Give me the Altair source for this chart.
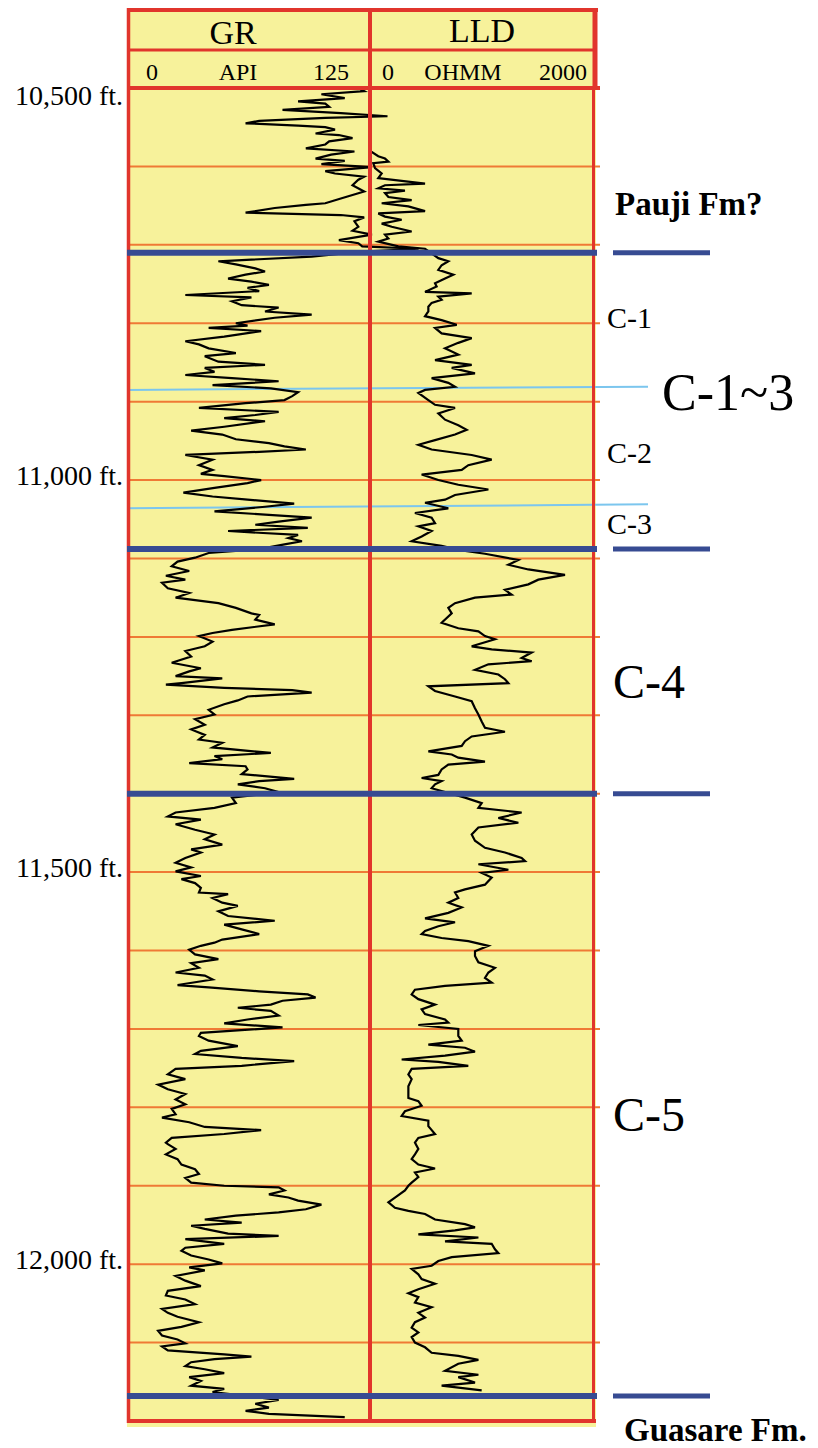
import altair as alt
import pandas as pd

SERIF = "'Liberation Serif', 'Times New Roman', Times, serif"
YELLOW = "#f7f29b"
RED = "#e1352c"
ORANGE = "#ef7a35"
NAVY = "#374b92"
SKY = "#7cc6ee"

DEPTH_TOP, DEPTH_BOTTOM = 10500, 12200
GR_SCALE = [0, 125]      # API
LLD_SCALE = [0, 2000]    # OHMM

grid_depths = list(range(10600, 12200, 100))
formation_tops = [10710, 11088, 11400, 12168]
subunit_left = [10885, 11036]
subunit_right = [10881, 11031]

depth_label_text = ["11,000 ft.", "11,500 ft.", "12,000 ft."]
depth_label_depth = [11000, 11500, 12000]
top_label_text = ["10,500 ft."]
top_label_depth = [10500]

# GR (API) by interval: (depth ft, API)
gr_pauji = [(10500,119),(10504,122),(10508,100),(10513,112),(10517,88),(10520,102),(10524,104),(10528,80),(10532,110),(10536,134),(10538,102),(10542,68),(10545,61),(10548,88),(10550,102),(10553,107),(10558,97),(10560,109),(10564,116),(10568,104),(10572,102),(10577,92),(10581,117),(10585,105),(10590,97),(10593,112),(10597,100),(10601,126),(10606,102),(10609,107),(10613,122),(10617,119),(10624,116),(10632,122),(10641,110),(10647,102),(10649,92),(10653,76),(10659,61),(10662,110),(10665,122),(10670,117),(10677,119),(10682,116),(10687,126),(10694,109),(10698,119),(10702,121),(10705,150),(10709,119)]
gr_c1_3 = [(10715,95),(10721,47),(10725,56),(10730,66),(10734,71),(10738,61),(10743,52),(10747,64),(10751,73),(10755,62),(10759,68),(10764,30),(10767,64),(10772,54),(10777,59),(10780,78),(10785,71),(10789,95),(10793,76),(10800,56),(10803,62),(10806,42),(10810,69),(10817,50),(10823,30),(10827,37),(10832,42),(10838,56),(10842,40),(10849,47),(10853,71),(10857,40),(10862,45),(10866,30),(10870,54),(10874,78),(10879,44),(10883,74),(10888,88),(10893,85),(10898,81),(10902,61),(10908,37),(10913,78),(10917,66),(10921,50),(10925,71),(10932,50),(10937,33),(10942,49),(10948,56),(10953,73),(10957,81),(10961,92),(10964,68),(10968,30),(10974,44),(10981,37),(10987,44),(10992,38),(10995,50),(11000,69),(11004,62),(11010,45),(11016,29),(11021,44),(11025,62),(11030,86),(11034,71),(11040,45),(11044,71),(11048,95),(11053,78),(11057,66),(11061,93),(11065,52),(11070,88),(11074,83),(11078,90),(11082,81),(11088,68)]
gr_c4 = [(11093,42),(11099,35),(11104,26),(11110,23),(11116,32),(11122,20),(11127,30),(11131,18),(11138,21),(11144,32),(11150,25),(11157,47),(11163,56),(11170,64),(11172,68),(11178,66),(11184,76),(11191,54),(11195,44),(11199,37),(11206,44),(11212,40),(11218,30),(11225,33),(11233,23),(11240,38),(11244,32),(11250,25),(11253,49),(11259,28),(11261,20),(11265,50),(11268,85),(11271,95),(11276,62),(11281,57),(11286,50),(11293,42),(11299,45),(11305,35),(11312,40),(11318,33),(11325,40),(11331,37),(11335,49),(11341,44),(11348,74),(11352,45),(11356,49),(11361,32),(11365,61),(11369,62),(11375,59),(11381,86),(11384,68),(11388,57),(11393,71),(11398,78)]
gr_c5 = [(11405,54),(11412,56),(11418,45),(11424,25),(11429,21),(11433,38),(11439,25),(11446,35),(11452,45),(11458,40),(11465,49),(11471,33),(11475,38),(11482,30),(11488,25),(11494,33),(11499,25),(11505,38),(11509,28),(11514,35),(11520,38),(11526,37),(11528,52),(11533,44),(11539,49),(11543,57),(11550,47),(11556,52),(11562,76),(11567,50),(11573,59),(11579,68),(11586,49),(11590,45),(11594,38),(11599,32),(11605,35),(11611,47),(11616,33),(11622,37),(11628,25),(11632,40),(11637,44),(11644,26),(11647,42),(11652,68),(11656,93),(11660,97),(11664,80),(11669,74),(11673,57),(11677,74),(11683,78),(11688,62),(11693,50),(11698,80),(11705,38),(11709,37),(11715,42),(11722,57),(11728,38),(11732,35),(11737,59),(11741,86),(11747,59),(11751,25),(11758,21),(11764,30),(11771,16),(11777,21),(11783,30),(11790,25),(11796,30),(11802,23),(11809,25),(11813,18),(11819,32),(11825,40),(11829,69),(11834,50),(11839,23),(11845,20),(11847,21),(11853,25),(11860,20),(11866,26),(11873,28),(11879,35),(11885,37),(11890,30),(11896,33),(11900,50),(11902,78),(11906,81),(11911,73),(11915,83),(11919,88),(11924,100),(11930,92),(11934,78),(11938,56),(11943,40),(11947,59),(11951,33),(11955,40),(11961,52),(11964,78),(11968,30),(11974,50),(11979,30),(11983,28),(11989,33),(11994,42),(11999,49),(12004,32),(12008,40),(12015,25),(12021,30),(12028,38),(12034,21),(12040,20),(12045,30),(12051,35),(12057,18),(12062,21),(12067,26),(12074,37),(12080,28),(12085,16),(12091,18),(12096,26),(12101,30),(12105,18),(12110,21),(12115,50),(12118,64),(12121,45),(12125,33),(12130,30),(12134,40),(12139,50),(12144,32),(12149,38),(12155,33),(12159,50),(12163,44)]
gr_guasare = [(12173,78),(12178,66),(12183,73),(12187,61),(12191,73),(12195,112)]

# LLD (OHMM) by interval: (depth ft, ohm-m)
lld_pauji = [(10500,5),(10581,8),(10587,73),(10590,132),(10594,162),(10596,29),(10602,44),(10609,103),(10615,73),(10622,485),(10624,132),(10628,73),(10631,308),(10634,132),(10639,162),(10643,367),(10647,103),(10651,338),(10657,485),(10660,73),(10664,132),(10668,279),(10673,103),(10677,191),(10683,367),(10687,132),(10692,162),(10696,73),(10702,250),(10705,485)]
lld_c1_3 = [(10717,602),(10721,690),(10726,631),(10732,602),(10738,734),(10743,661),(10749,573),(10753,587),(10760,485),(10762,896),(10766,602),(10770,631),(10774,543),(10779,514),(10785,514),(10791,485),(10796,631),(10802,764),(10806,573),(10813,631),(10819,896),(10825,778),(10832,661),(10840,778),(10847,573),(10853,896),(10857,720),(10864,925),(10870,543),(10876,690),(10881,749),(10885,485),(10889,426),(10898,514),(10904,573),(10908,749),(10915,602),(10923,661),(10930,778),(10936,852),(10942,749),(10949,573),(10955,426),(10961,543),(10968,896),(10974,1072),(10981,866),(10987,808),(10993,455),(11000,602),(11006,778),(11012,1043),(11019,749),(11025,661),(11029,485),(11036,690),(11042,396),(11048,543),(11055,573),(11059,426),(11065,543),(11072,455),(11078,367),(11084,631)]
lld_c4 = [(11089,778),(11094,1013),(11102,1307),(11108,1219),(11114,1395),(11121,1718),(11127,1483),(11133,1395),(11140,1189),(11146,1248),(11150,925),(11157,749),(11163,690),(11170,720),(11182,631),(11189,778),(11193,955),(11199,1013),(11203,1101),(11212,896),(11216,1072),(11220,1424),(11227,1336),(11231,1424),(11235,1043),(11242,925),(11248,1131),(11254,1189),(11259,1219),(11263,514),(11269,573),(11276,749),(11282,896),(11291,925),(11299,955),(11308,984),(11316,1013),(11321,1189),(11327,896),(11333,837),(11339,808),(11346,514),(11350,720),(11354,778),(11359,1013),(11363,690),(11369,631),(11376,602),(11380,455),(11384,631),(11388,573),(11393,543)]
lld_c5 = [(11405,837),(11412,984),(11418,955),(11424,1336),(11431,1131),(11437,1307),(11443,955),(11452,896),(11460,925),(11469,1013),(11475,1189),(11482,1336),(11486,1366),(11490,955),(11497,1219),(11501,984),(11507,1072),(11516,1013),(11522,837),(11526,749),(11533,778),(11539,690),(11545,808),(11552,690),(11559,485),(11564,749),(11569,602),(11575,485),(11579,455),(11584,631),(11588,866),(11594,1043),(11601,925),(11607,925),(11615,955),(11622,1101),(11628,1043),(11635,1013),(11641,1072),(11645,661),(11650,396),(11656,367),(11662,426),(11669,573),(11675,455),(11681,485),(11688,661),(11692,690),(11695,426),(11700,778),(11709,778),(11715,808),(11720,514),(11724,837),(11729,925),(11734,661),(11739,279),(11742,602),(11747,866),(11751,367),(11758,338),(11764,367),(11773,338),(11781,338),(11788,338),(11792,426),(11798,455),(11805,308),(11811,279),(11817,514),(11824,514),(11834,573),(11839,426),(11845,396),(11853,426),(11860,396),(11866,367),(11873,426),(11878,573),(11883,396),(11889,426),(11896,367),(11900,338),(11906,308),(11915,220),(11921,162),(11928,220),(11932,338),(11936,485),(11943,573),(11949,837),(11953,925),(11957,749),(11962,426),(11966,955),(11971,661),(11974,1072),(11981,1101),(11986,1131),(11991,720),(11996,602),(12002,543),(12006,367),(12013,426),(12019,455),(12025,573),(12032,426),(12037,338),(12042,426),(12049,396),(12055,543),(12062,426),(12068,485),(12074,396),(12081,367),(12087,426),(12093,367),(12100,396),(12106,485),(12113,543),(12117,778),(12122,955),(12127,778),(12136,661),(12141,955),(12144,778),(12151,925),(12155,631),(12161,984)]

# interval labels
small_units = ["C-1", "C-2", "C-3"]
small_units_depth = [10806, 10978, 11069]
big_units = ["C-4", "C-5"]
big_units_depth = [11278, 11830]
group_label = ["C-1~3"]
group_label_depth = [10911]
formation_top_name = ["Pauji Fm?"]
formation_top_depth = [10662]
formation_base_name = ["Guasare Fm."]
formation_base_depth = [12226]

one = pd.DataFrame({"k": [0]})
yscale = alt.Scale(domain=[DEPTH_TOP, DEPTH_BOTTOM], range=[88, 1421], zero=False, nice=False)


def Y(field):
    return alt.Y(field, type="quantitative", scale=yscale, axis=None)


def rule(x, x2, y, y2, color, w):
    return alt.Chart(one).mark_rule(color=color, strokeWidth=w).encode(
        x=alt.value(x), x2=alt.value(x2), y=alt.value(y), y2=alt.value(y2))


def text_at(text, x, y, size, align="center", weight="normal"):
    return alt.Chart(pd.DataFrame({"t": [text]})).mark_text(
        font=SERIF, fontSize=size, fontWeight=weight, align=align,
        baseline="alphabetic", color="black").encode(
        text="t:N", x=alt.value(x), y=alt.value(y))


def depth_text(texts, depths, x, size, align="left", weight="normal", baseline="alphabetic", dy=0):
    df = pd.DataFrame({"t": texts, "depth": depths})
    return alt.Chart(df).mark_text(
        font=SERIF, fontSize=size, fontWeight=weight, align=align,
        baseline=baseline, color="black", dy=dy).encode(
        text="t:N", x=alt.value(x), y=Y("depth"))


layers = []
# background
layers.append(alt.Chart(one).mark_rect(color=YELLOW).encode(
    x=alt.value(127), x2=alt.value(596), y=alt.value(8), y2=alt.value(1427)))

# 100 ft grid
grid_df = pd.DataFrame({"depth": grid_depths})
layers.append(alt.Chart(grid_df).mark_rule(color=ORANGE, strokeWidth=2).encode(
    y=Y("depth"), x=alt.value(128), x2=alt.value(600)))

# sub-unit boundaries (light blue)
sub_df = pd.DataFrame({"d1": subunit_left, "d2": subunit_right})
layers.append(alt.Chart(sub_df).mark_rule(color=SKY, strokeWidth=2).encode(
    y=Y("d1"), y2="d2:Q", x=alt.value(127), x2=alt.value(648)))

# curves
gr_df = pd.DataFrame(gr_pauji + gr_c1_3 + gr_c4 + gr_c5 + gr_guasare, columns=["depth", "api"])
lld_df = pd.DataFrame(lld_pauji + lld_c1_3 + lld_c4 + lld_c5, columns=["depth", "ohmm"])
layers.append(alt.Chart(gr_df).mark_line(color="black", strokeWidth=2.2).encode(
    x=alt.X("api:Q", scale=alt.Scale(domain=GR_SCALE, range=[127, 370], zero=False, nice=False), axis=None),
    y=Y("depth"), order="depth:Q"))
layers.append(alt.Chart(lld_df).mark_line(color="black", strokeWidth=2.2).encode(
    x=alt.X("ohmm:Q", scale=alt.Scale(domain=LLD_SCALE, range=[370, 597], zero=False, nice=False), axis=None),
    y=Y("depth"), order="depth:Q"))

# red frame
layers += [
    rule(128.5, 128.5, 8, 1423, RED, 3.5),
    rule(370, 370, 8, 1423, RED, 4),
    rule(595, 595, 8, 90, RED, 5),
    rule(593.5, 593.5, 88, 1423, RED, 3),
    rule(127, 598, 10, 10, RED, 4),
    rule(127, 597, 50, 50, RED, 3),
    rule(127, 600, 88, 88, RED, 4),
    rule(127, 596, 1421, 1421, RED, 4),
]

# formation tops (navy)
tops_df = pd.DataFrame({"depth": formation_tops})
layers.append(alt.Chart(tops_df).mark_rule(color=NAVY, strokeWidth=6).encode(
    y=Y("depth"), x=alt.value(127), x2=alt.value(597)))
layers.append(alt.Chart(tops_df).mark_rule(color=NAVY, strokeWidth=5).encode(
    y=Y("depth"), x=alt.value(613), x2=alt.value(710)))

# header text
layers += [
    text_at("GR", 233, 44, 34),
    text_at("LLD", 482, 42, 34),
    text_at("0", 152, 80, 24),
    text_at("API", 238, 80, 24),
    text_at("125", 331, 80, 24),
    text_at("0", 388, 80, 24),
    text_at("OHMM", 463, 80, 24),
    text_at("2000", 563, 80, 24),
]

# depth labels
layers.append(depth_text(top_label_text, top_label_depth, 123, 28, align="right", baseline="middle", dy=9))
layers.append(depth_text(depth_label_text, depth_label_depth, 123, 28, align="right", baseline="middle", dy=-3))

# unit labels
layers.append(depth_text(small_units, small_units_depth, 607, 30))
layers.append(depth_text(group_label, group_label_depth, 662, 52))
layers.append(depth_text(big_units, big_units_depth, 613, 48))
layers.append(depth_text(formation_top_name, formation_top_depth, 615, 33, weight="bold"))
layers.append(depth_text(formation_base_name, formation_base_depth, 624, 33, weight="bold"))

chart = (
    alt.layer(*layers)
    .resolve_scale(x="independent")
    .properties(width=818, height=1448, padding=0,
                autosize=alt.AutoSizeParams(type="none"), background="white")
    .configure_view(stroke=None)
)

chart.save("out.html", embed_options={"renderer": "svg", "actions": False})
